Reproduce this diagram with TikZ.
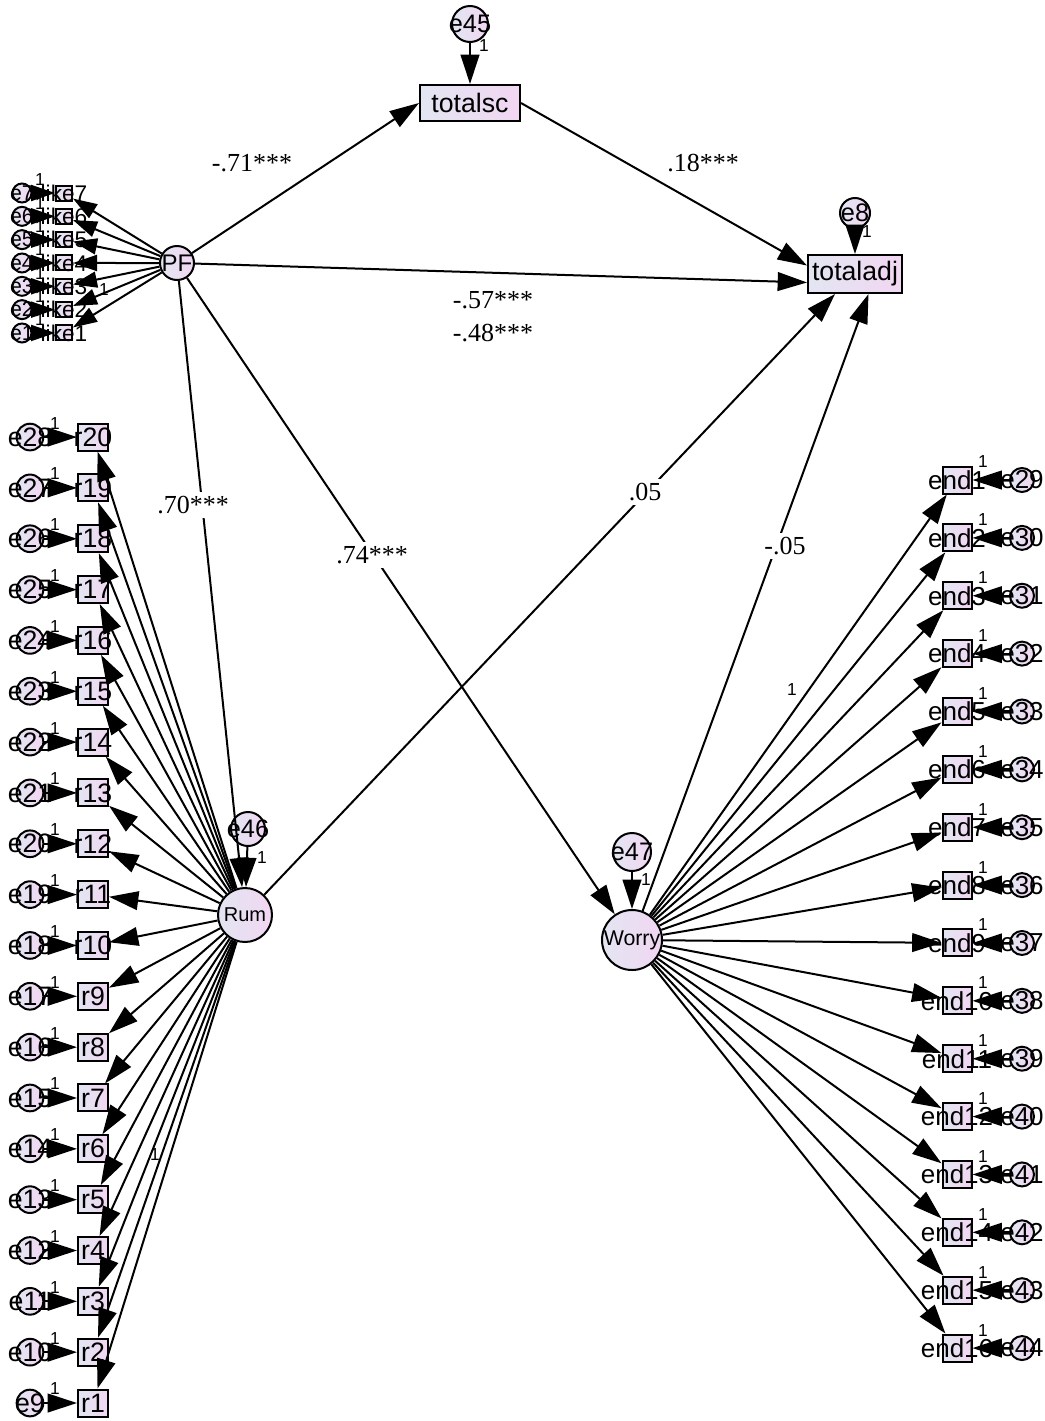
\documentclass[tikz,border=0pt]{standalone}
\usepackage{fontspec}
\setmainfont{Liberation Serif}
\setsansfont{Liberation Sans}
\usetikzlibrary{arrows.meta}
\definecolor{amosL}{RGB}{226,230,242}
\definecolor{amosR}{RGB}{242,214,242}
\begin{document}
\begin{tikzpicture}[x=0.75pt,y=-0.75pt,
  shadebox/.style={draw=black, line width=1.5pt, left color=amosL, right color=amosR, inner sep=0pt},
  lab/.style={font=\sffamily\fontsize{#1}{#1}\selectfont, inner sep=0pt},
  bigobs/.style={shadebox, rectangle, font=\sffamily\fontsize{20}{20}\selectfont},
  ritem/.style={shadebox, rectangle, minimum width=22.5pt, minimum height=20.25pt},
  eitem/.style={shadebox, rectangle, minimum width=21.75pt, minimum height=20.25pt},
  litem/.style={shadebox, rectangle, minimum width=12pt, minimum height=11.25pt},
  errc/.style={shadebox, circle, minimum size=20pt},
  lerr/.style={shadebox, circle, minimum size=14.25pt},
  latent/.style={shadebox, circle},
  arr/.style={-{Triangle[length=22pt,width=14pt]}, line width=1.5pt},
  sarr/.style={-{Triangle[length=18pt,width=12pt]}, line width=1.5pt},
  coef/.style={font=\fontsize{19.5}{19.5}\selectfont, inner sep=1pt},
  coefw/.style={coef, fill=white, inner sep=3pt},
  one/.style={font=\sffamily\fontsize{13}{13}\selectfont, inner sep=0pt}]
\useasboundingbox (0,0) rectangle (1045,1421);

% main nodes
\node[bigobs, minimum width=75pt, minimum height=27pt] (totalsc) at (470,103) {totalsc};
\node[errc, minimum size=27pt, label={[lab=19]center:e45}] (e45) at (470,24) {};
\node[bigobs, minimum width=70.5pt, minimum height=28.5pt] (totaladj) at (855,274) {totaladj};
\node[errc, minimum size=22.5pt, label={[lab=19]center:e8}] (e8) at (855,213) {};
\node[latent, minimum size=25.5pt, label={[lab=18]center:PF}] (PF) at (177,263) {};
\node[latent, minimum size=40.5pt, font=\sffamily\fontsize{15}{15}\selectfont] (Rum) at (245,915) {Rum};
\node[errc, minimum size=25.5pt, label={[lab=19]center:e46}] (e46) at (248,829) {};
\node[latent, minimum size=45pt, label={[lab=16]center:Worry}] (Worry) at (632,940) {};
\node[errc, minimum size=28.5pt, label={[lab=19]center:e47}] (e47) at (632,852) {};

% PF items
\foreach \k in {1,...,7}{
  \pgfmathsetmacro\yy{193+(7-\k)*23.33}
  \node[litem, label={[lab=17]center:like\k}] (like\k) at (64,\yy) {};
  \node[lerr, label={[lab=16]center:e\k}] (e\k) at (22,\yy) {};
}
% Rum items
\foreach \k in {1,...,20}{
  \pgfmathsetmacro\yy{1403-(\k-1)*50.84}
  \pgfmathtruncatemacro\ee{\k+8}
  \node[ritem, label={[lab=20]center:r\k}] (r\k) at (93,\yy) {};
  \node[errc, label={[lab=20]center:e\ee}] (e\ee) at (30,\yy) {};
}
% Worry items
\foreach \k in {1,...,16}{
  \pgfmathsetmacro\yy{480+(\k-1)*57.87}
  \pgfmathtruncatemacro\ee{\k+28}
  \node[eitem, label={[lab=19.5]center:end\k}] (end\k) at (957,\yy) {};
  \node[errc, minimum size=18pt, label={[lab=19.5]center:e\ee}] (e\ee) at (1022,\yy) {};
}

% connectors: PF items
\foreach \k in {1,...,7}{
  \pgfmathsetmacro\yy{193+(7-\k)*23.33}
  \draw[sarr] (PF) -- (like\k);
  \draw[sarr] (e\k) -- (like\k);
  \node[one] at (40,\yy-13) {1};
}
\node[one] at (104,290) {1};
% Rum items
\foreach \k in {1,...,20}{
  \pgfmathsetmacro\yy{1403-(\k-1)*50.84}
  \pgfmathtruncatemacro\ee{\k+8}
  \draw[arr] (Rum) -- (r\k);
  \draw[arr] (e\ee) -- (r\k);
  \node[one] at (55,\yy-14) {1};
}
\node[one] at (155,1155) {1};
% Worry items
\foreach \k in {1,...,16}{
  \pgfmathsetmacro\yy{480+(\k-1)*57.87}
  \pgfmathtruncatemacro\ee{\k+28}
  \draw[arr] (Worry) -- (end\k);
  \draw[arr] (e\ee) -- (end\k);
  \node[one] at (983,\yy-18) {1};
}
\node[one] at (792,690) {1};

% error terms of endogenous
\draw[arr] (e45) -- (totalsc);
\node[one] at (484,46) {1};
\draw[arr] (e8) -- (totaladj);
\node[one] at (867,232) {1};
\draw[arr] (e46) -- (Rum);
\node[one] at (262,858) {1};
\draw[arr] (e47) -- (Worry);
\node[one] at (646,880) {1};

% structural paths
\draw[arr] (PF) -- (totalsc.west);
\draw[arr] (totalsc.east) -- (totaladj.170);
\draw[arr] (PF) -- (totaladj.190);
\draw[arr] (PF) -- (Rum);
\draw[arr] (PF) -- (Worry);
\draw[arr] (Rum) -- (totaladj.225);
\draw[arr] (Worry) -- (totaladj.304);

% coefficients
\node[coef] (c1) at (252,163) {-.71***};
\node[coef] (c2) at (703,163) {.18***};
\node[coef] (c3) at (493,300) {-.57***};
\node[coef] (c4) at (493,333) {-.48***};
\node[coefw] (c5) at (193,505) {.70***};
\node[coefw] (c6) at (372,555) {.74***};
\node[coefw] (c7) at (645,492) {.05};
\node[coefw] (c8) at (785,546) {-.05};
\end{tikzpicture}
\end{document}
